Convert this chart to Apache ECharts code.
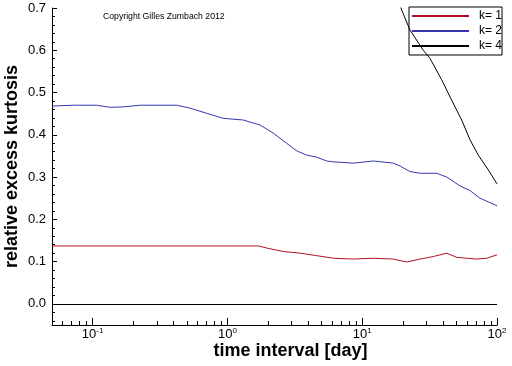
<!DOCTYPE html>
<html>
<head>
<meta charset="utf-8">
<script src="https://cdn.jsdelivr.net/npm/echarts@6/dist/echarts.min.js"></script>
<style>html,body{margin:0;padding:0;background:#fff}#c{width:512px;height:366px}</style>
</head>
<body>
<div id="c"></div>
<script>
const seriesNames = ['k= 1', 'k= 2', 'k= 4'];
const k1 = [[0.05,0.137],[1.70,0.137],[1.96,0.132],[2.6,0.124],[3.46,0.120],[4.6,0.114],[6.11,0.108],[8.59,0.106],[12.1,0.108],[17.0,0.106],[21.4,0.099],[26.9,0.106],[33.7,0.112],[42.4,0.120],[50.3,0.110],[59.6,0.108],[70.7,0.106],[84,0.108],[100,0.116]];
const k2 = [[0.05,0.468],[0.072,0.470],[0.107,0.470],[0.135,0.465],[0.169,0.466],[0.225,0.470],[0.42,0.470],[0.53,0.463],[0.70,0.451],[0.93,0.439],[1.31,0.435],[1.75,0.423],[2.19,0.404],[2.75,0.380],[3.27,0.362],[3.87,0.352],[4.6,0.347],[5.46,0.338],[6.11,0.336],[8.59,0.333],[12.1,0.338],[17.0,0.333],[19.1,0.326],[22.6,0.313],[26.9,0.309],[35.7,0.309],[42.4,0.300],[53.2,0.279],[63.1,0.268],[74.8,0.250],[100,0.232]];
const k4 = [[18.0,0.725],[19.3,0.701],[22.6,0.648],[28.4,0.600],[31.8,0.581],[38.9,0.530],[46.1,0.482],[54.7,0.435],[63.1,0.388],[72.6,0.352],[86.2,0.317],[100,0.284]];
const xMajorTicks = [0.1, 1, 10, 100];
const xMinorTicks = [0.06,0.07,0.08,0.09,0.2,0.3,0.4,0.5,0.6,0.7,0.8,0.9,2,3,4,5,6,7,8,9,20,30,40,50,60,70,80,90];
const yMajorTicks = [0, 0.1, 0.2, 0.3, 0.4, 0.5, 0.6, 0.7];
const yMinorTicks = [-0.04,-0.02,0.02,0.04,0.06,0.08,0.12,0.14,0.16,0.18,0.22,0.24,0.26,0.28,0.32,0.34,0.36,0.38,0.42,0.44,0.46,0.48,0.52,0.54,0.56,0.58,0.62,0.64,0.66,0.68];
const colors = ['#b01025', '#3636b0', '#000000'];
const FONT = "'Liberation Sans', Arial, sans-serif";

const chart = echarts.init(document.getElementById('c'), null, {renderer: 'canvas'});
const black = '#000';
chart.setOption({
  animation: false,
  backgroundColor: '#fff',
  grid: {left: 52, right: 15, top: 8, bottom: 41, containLabel: false, outerBoundsMode: 'none'},
  legend: {
    orient: 'vertical', left: 409, top: 7,
    padding: [3, 0, 3, 2],
    itemWidth: 57, itemHeight: 10, itemGap: 3,
    borderColor: black, borderWidth: 1,
    itemStyle: {opacity: 0},
    textStyle: {fontFamily: FONT, fontSize: 12, color: black, padding: [0, 0, 0, 5]},
    data: seriesNames
  },
  xAxis: [{
    type: 'log', min: 0.05, max: 100, position: 'bottom',
    name: 'time interval [day]', nameLocation: 'middle', nameGap: 17, nameMoveOverlap: false,
    nameTextStyle: {fontFamily: FONT, fontSize: 18, fontWeight: 'bold', color: black, padding: [0, 0, 0, 32]},
    axisLine: {onZero: false, lineStyle: {color: black, width: 1}},
    axisTick: {inside: true, length: 7, customValues: xMajorTicks, lineStyle: {color: black}},
    axisLabel: {
      customValues: xMajorTicks, margin: 2,
      formatter: v => '{b|10}{s|' + Math.round(Math.log10(v)) + '}',
      rich: {
        b: {fontFamily: FONT, fontSize: 13, lineHeight: 15, color: black},
        s: {fontFamily: FONT, fontSize: 8, lineHeight: 8, verticalAlign: 'top', color: black}
      }
    },
    splitLine: {show: false}
  }, {
    type: 'log', min: 0.05, max: 100, position: 'bottom',
    axisLine: {show: false, onZero: false},
    axisTick: {inside: true, length: 4, customValues: xMinorTicks, lineStyle: {color: black}},
    axisLabel: {show: false},
    splitLine: {show: false}
  }],
  yAxis: [{
    type: 'value', min: -0.05, max: 0.7, position: 'left',
    name: 'relative excess kurtosis', nameLocation: 'middle', nameGap: 31, nameMoveOverlap: false,
    nameTextStyle: {fontFamily: FONT, fontSize: 18, fontWeight: 'bold', color: black},
    axisLine: {show: true, onZero: false, lineStyle: {color: black, width: 1}},
    axisTick: {show: true, inside: true, length: 5, customValues: yMajorTicks, lineStyle: {color: black}},
    axisLabel: {customValues: yMajorTicks, margin: 6, fontFamily: FONT, fontSize: 13, color: black,
      formatter: v => v.toFixed(1)},
    splitLine: {show: false}
  }, {
    type: 'value', min: -0.05, max: 0.7, position: 'left',
    axisLine: {show: false, onZero: false},
    axisTick: {show: true, inside: true, length: 3, customValues: yMinorTicks, lineStyle: {color: black}},
    axisLabel: {show: false},
    splitLine: {show: false}
  }],
  graphic: [{
    type: 'text', left: 103, top: 12,
    style: {text: 'Copyright Gilles Zumbach 2012', fontFamily: FONT, fontSize: 8.7, fill: black}
  }],
  series: [
    {name: seriesNames[0], type: 'line', data: k1, symbol: 'none', color: colors[0], lineStyle: {width: 1},
     markLine: {silent: true, symbol: 'none', label: {show: false}, lineStyle: {color: black, type: 'solid', width: 1.2},
       data: [{yAxis: 0}]}},
    {name: seriesNames[1], type: 'line', data: k2, symbol: 'none', color: colors[1], lineStyle: {width: 1}},
    {name: seriesNames[2], type: 'line', data: k4, symbol: 'none', color: colors[2], lineStyle: {width: 1}}
  ]
});
</script>
</body>
</html>
